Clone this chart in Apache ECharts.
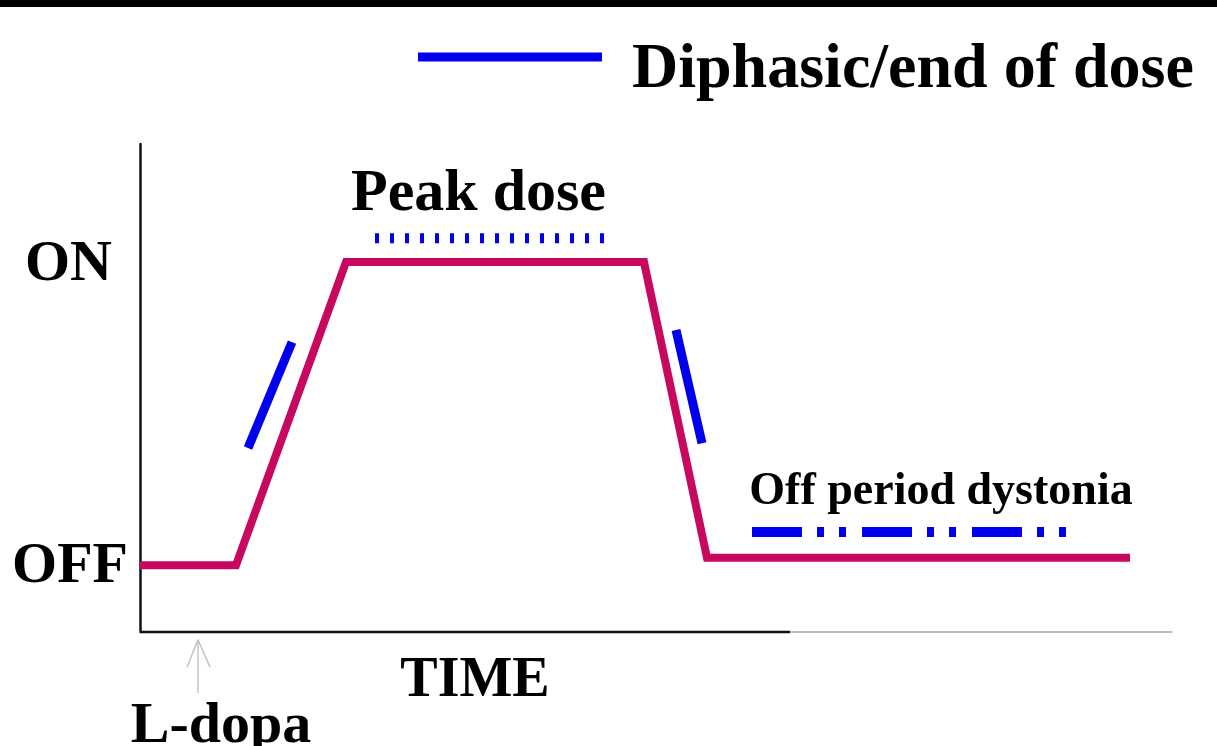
<!DOCTYPE html>
<html><head><meta charset="utf-8">
<script src="https://cdn.jsdelivr.net/npm/echarts@6/dist/echarts.min.js"></script>
<style>html,body{margin:0;padding:0;background:#fff}#c{width:1217px;height:746px}</style>
</head><body><div id="c"></div>
<script>
// Response curve (time units, response level 0-100)
const curveX = [0, 9.6, 20.6, 50.4, 56.7, 99];
const curveY = [13.7, 13.7, 75.8, 75.8, 15.2, 15.2];
// Diphasic / end of dose segments
const riseX = [10.8, 15.2], riseY = [37.7, 59.4];
const fallX = [53.6, 56.2], fallY = [61.9, 38.7];
// Peak dose dyskinesia
const peakX = [23.5, 47.3], peakY = [80.7, 80.7];
// Off period dystonia
const offX = [61.2, 92.8], offY = [20.5, 20.5];
// Dark part of the time axis
const timeAxisX = [0, 65], timeAxisY = [0, 0];
// L-dopa arrow
const arrowShaftX = [5.8, 5.8], arrowShaftY = [-1.6, -12.5];
const arrowHeadX = [4.7, 5.8, 7.0], arrowHeadY = [-7.2, -1.6, -7.2];
// Tick labels
const yTickValues = [13.3, 75.3];
const yTickLabels = ['OFF', 'ON'];
const xTickValues = [8.1, 33.5];
const xTickLabels = ['L-dopa', 'TIME'];
// Annotations
const annX = [33.85, 80.1];
const annY = [89.6, 28.6];
const annText = ['Peak dose', 'Off period dystonia'];
const annSize = [60, 46];

const zip = (xs, ys) => xs.map((x, i) => [x, ys[i]]);
const FONT = "'Liberation Serif','Times New Roman',serif";
const MAG = '#c8085f', BLUE = '#0000ee';

const chart = echarts.init(document.getElementById('c'), null, {renderer: 'canvas'});
chart.setOption({
  animation: false,
  backgroundColor: '#fff',
  graphic: [{type: 'rect', left: 0, top: 0, shape: {width: 1217, height: 7}, style: {fill: '#000'}}],
  legend: {
    data: ['Diphasic/end of dose'],
    left: 413, top: 33,
    icon: 'rect', itemWidth: 184, itemHeight: 9,
    formatter: name => '{t|' + name + '}',
    textStyle: {
      fontFamily: FONT, fontWeight: 'bold', fontSize: 64, color: '#000',
      rich: {t: {fontFamily: FONT, fontWeight: 'bold', fontSize: 64, color: '#000', padding: [26, 0, 0, 25]}}
    }
  },
  grid: {left: 140, right: 45, top: 144, bottom: 114, containLabel: false, outerBoundsMode: 'none'},
  xAxis: {
    type: 'value', min: 0, max: 103.2,
    axisLine: {show: true, onZero: false, lineStyle: {color: '#a8a8a8', width: 1.5}},
    axisTick: {show: false},
    splitLine: {show: false},
    axisLabel: {
      customValues: xTickValues, margin: 22,
      formatter: v => { const t = xTickLabels[xTickValues.indexOf(v)] || ''; return t === 'TIME' ? '{time|' + t + '}' : '{ld|' + t + '}'; },
      verticalAlign: 'top',
      rich: {
        time: {fontFamily: FONT, fontWeight: 'bold', fontSize: 56, color: '#000'},
        ld: {fontFamily: FONT, fontWeight: 'bold', fontSize: 58, color: '#000', padding: [44, 0, 0, 0]}
      }
    }
  },
  yAxis: {
    type: 'value', min: 0, max: 100,
    axisLine: {show: true, onZero: false, lineStyle: {color: '#111', width: 2.5}},
    axisTick: {show: false},
    splitLine: {show: false},
    axisLabel: {
      customValues: yTickValues, margin: 12,
      formatter: v => { const t = yTickLabels[yTickValues.indexOf(v)] || ''; return t === 'ON' ? '{on|' + t + '}' : '{off|' + t + '}'; },
      rich: {
        on: {fontFamily: FONT, fontWeight: 'bold', fontSize: 58, color: '#000', padding: [0, 16, 0, 0]},
        off: {fontFamily: FONT, fontWeight: 'bold', fontSize: 58, color: '#000'}
      }
    }
  },
  series: [
    {type: 'line', name: 'timeAxis', data: zip(timeAxisX, timeAxisY), clip: false, symbol: 'none', silent: true,
     lineStyle: {color: '#111', width: 2.5}},
    {type: 'line', name: 'arrowShaft', data: zip(arrowShaftX, arrowShaftY), clip: false, symbol: 'none', silent: true,
     lineStyle: {color: '#bdbdbd', width: 1.3}},
    {type: 'line', name: 'arrowHead', data: zip(arrowHeadX, arrowHeadY), clip: false, symbol: 'none', silent: true,
     lineStyle: {color: '#bdbdbd', width: 1.3}},
    {type: 'line', name: 'Response', data: zip(curveX, curveY), clip: false, symbol: 'none',
     lineStyle: {color: MAG, width: 8, join: 'miter', cap: 'butt'}},
    {type: 'line', name: 'Diphasic/end of dose', color: BLUE, data: zip(riseX, riseY), clip: false, symbol: 'none',
     lineStyle: {color: BLUE, width: 9, cap: 'butt'}},
    {type: 'line', name: 'Diphasic/end of dose', color: BLUE, data: zip(fallX, fallY), clip: false, symbol: 'none',
     lineStyle: {color: BLUE, width: 9, cap: 'butt'}},
    {type: 'line', name: 'Peak dose', data: zip(peakX, peakY), clip: false, symbol: 'none',
     lineStyle: {color: BLUE, width: 10, type: [4, 11], cap: 'butt'}},
    {type: 'line', name: 'Off period dystonia', data: zip(offX, offY), clip: false, symbol: 'none',
     lineStyle: {color: BLUE, width: 10, type: [50, 15, 7, 15, 7, 16], cap: 'butt'}},
    {type: 'scatter', name: 'annotations', clip: false, symbolSize: 0, silent: true,
     itemStyle: {opacity: 1},
     data: annX.map((x, i) => ({value: [x, annY[i]], name: annText[i],
       label: {show: true, position: 'inside', formatter: annText[i], fontFamily: FONT, fontWeight: 'bold',
               fontSize: annSize[i], color: '#000'}}))}
  ]
});
</script></body></html>
